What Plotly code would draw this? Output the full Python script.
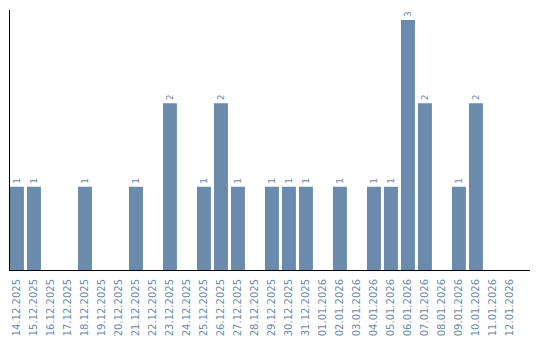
import plotly.graph_objects as go

dates = ["14.12.2025", "15.12.2025", "16.12.2025", "17.12.2025", "18.12.2025",
         "19.12.2025", "20.12.2025", "21.12.2025", "22.12.2025", "23.12.2025",
         "24.12.2025", "25.12.2025", "26.12.2025", "27.12.2025", "28.12.2025",
         "29.12.2025", "30.12.2025", "31.12.2025", "01.01.2026", "02.01.2026",
         "03.01.2026", "04.01.2026", "05.01.2026", "06.01.2026", "07.01.2026",
         "08.01.2026", "09.01.2026", "10.01.2026", "11.01.2026", "12.01.2026"]
counts = [1, 1, 0, 0, 1, 0, 0, 1, 0, 2,
          0, 1, 2, 1, 0, 1, 1, 1, 0, 1,
          0, 1, 1, 3, 2, 0, 1, 2, 0, 0]

BLUE = "#6a8bab"
positions = list(range(len(dates)))
labels = [str(v) if v > 0 else "" for v in counts]

fig = go.Figure(go.Bar(
    x=positions, y=counts,
    marker=dict(color=BLUE, line=dict(width=0)),
    text=labels, textposition="outside", textangle=-90,
    textfont=dict(family="DejaVu Sans", size=9, color=BLUE),
    cliponaxis=False,
))

fig.update_layout(
    width=540, height=340,
    margin=dict(l=10, r=10, t=10, b=70),
    paper_bgcolor="white", plot_bgcolor="white",
    bargap=0.18,
    showlegend=False,
    uniformtext=dict(minsize=9, mode="show"),
    xaxis=dict(
        tickmode="array", tickvals=positions, ticktext=dates,
        tickangle=-90, range=[-0.41, 30.18],
        tickfont=dict(family="DejaVu Sans", size=10, color=BLUE),
        ticklabelstandoff=4, automargin=False,
        showline=True, linecolor="black", linewidth=1,
        showgrid=False, zeroline=False, ticks="",
    ),
    yaxis=dict(
        range=[0, 3.12], showticklabels=False, automargin=False,
        showline=True, linecolor="black", linewidth=1,
        showgrid=False, zeroline=False, ticks="",
    ),
)

fig.write_html("out.html")
